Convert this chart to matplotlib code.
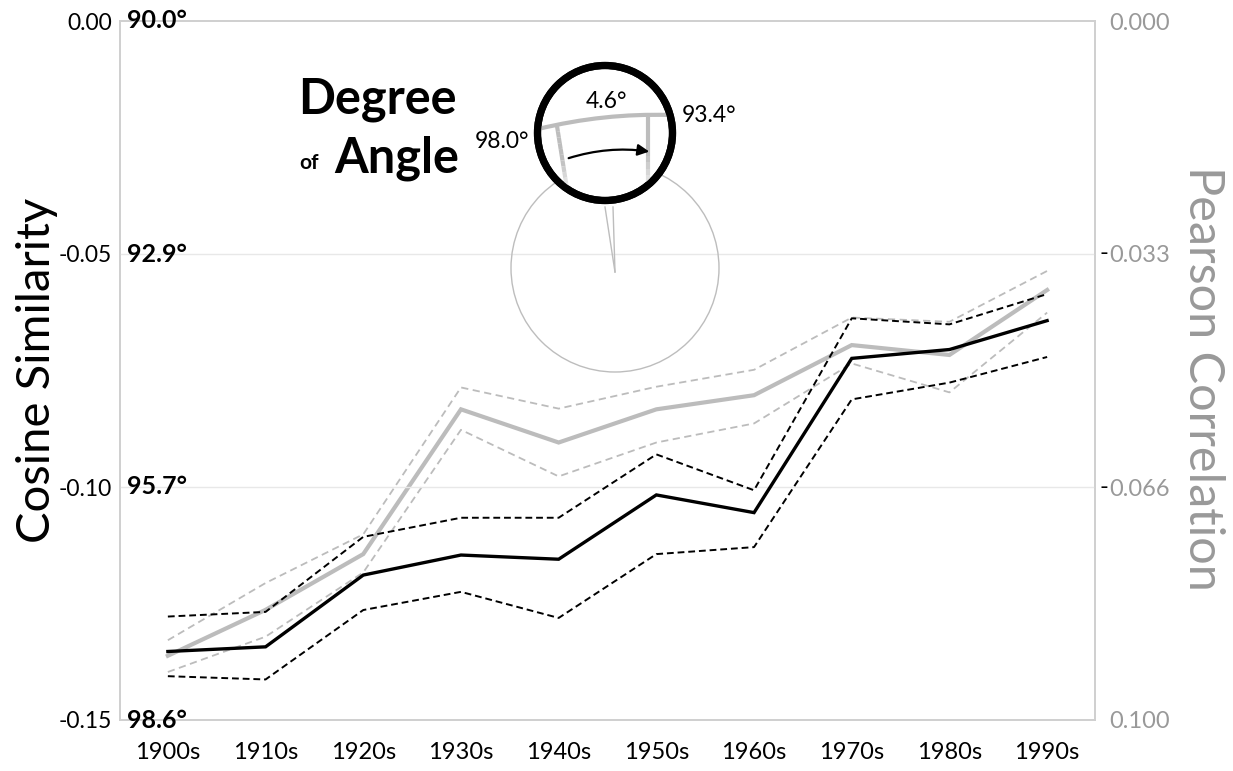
import numpy as np
import matplotlib
matplotlib.use("Agg")
import matplotlib.pyplot as plt
import matplotlib.transforms as mtransforms
from matplotlib.patches import Circle, FancyArrowPatch, PathPatch
from matplotlib.path import Path

plt.rcParams['font.family'] = ['Lato', 'DejaVu Sans']

# ---------------- data ----------------
decades = ['1900s', '1910s', '1920s', '1930s', '1940s',
           '1950s', '1960s', '1970s', '1980s', '1990s']

cosine_mean = [-0.1353, -0.1343, -0.1189, -0.1146, -0.1155,
               -0.1017, -0.1055, -0.0724, -0.0705, -0.0643]
cosine_upper = [-0.1278, -0.1268, -0.1107, -0.1066, -0.1066,
                -0.0930, -0.1007, -0.0638, -0.0651, -0.0586]
cosine_lower = [-0.1406, -0.1413, -0.1264, -0.1225, -0.1281,
                -0.1144, -0.1129, -0.0812, -0.0776, -0.0721]

pearson_mean = [-0.0899, -0.0834, -0.0755, -0.0550, -0.0597,
                -0.0550, -0.0530, -0.0459, -0.0473, -0.0381]
pearson_upper = [-0.0877, -0.0796, -0.0727, -0.0519, -0.0549,
                 -0.0518, -0.0494, -0.0420, -0.0426, -0.0354]
pearson_lower = [-0.0922, -0.0872, -0.0781, -0.0579, -0.0645,
                 -0.0597, -0.0570, -0.0485, -0.0526, -0.0413]

cos_ticks = [0.00, -0.05, -0.10, -0.15]
cos_ticklabels = ['0.00', '-0.05', '-0.10', '-0.15']
pear_ticks = [0.0, -0.033, -0.066, -0.099]
pear_ticklabels = ['0.000', '0.033', '0.066', '0.100']
pear_negative = [False, True, True, False]

# ---------------- figure ----------------
W, H = 1233, 771
fig = plt.figure(figsize=(W / 100, H / 100), dpi=100)
ax = fig.add_axes([120 / W, 1 - 720 / H, 975 / W, 699 / H])
ax2 = ax.twinx()

GREY = '#bcbcbc'
SPINE = '#cfcfcf'
LABEL_GREY = '#999999'
x = np.arange(len(decades))

# Pearson (grey, right axis)
ax2.plot(x, pearson_mean, color=GREY, lw=3.0, solid_joinstyle='miter')
ax2.plot(x, pearson_upper, color=GREY, lw=1.3, ls=(0, (4, 2.5)))
ax2.plot(x, pearson_lower, color=GREY, lw=1.3, ls=(0, (4, 2.5)))

# Cosine (black, left axis)
ax.plot(x, cosine_mean, color='black', lw=2.4, solid_joinstyle='miter')
ax.plot(x, cosine_upper, color='black', lw=1.4, ls=(0, (3.5, 2)))
ax.plot(x, cosine_lower, color='black', lw=1.4, ls=(0, (3.5, 2)))

ax.set_zorder(ax2.get_zorder() + 1)
ax.patch.set_visible(False)

ax.set_xlim(-0.49, 9.49)
ax.set_ylim(-0.15, 0.0)
ax2.set_ylim(-0.099, 0.0)

for a in (ax, ax2):
    for s in a.spines.values():
        s.set_color(SPINE)
        s.set_linewidth(1.2)

ax.set_xticks(x)
ax.set_xticklabels(decades, fontsize=17)
ax.set_yticks(cos_ticks)
ax.set_yticklabels(cos_ticklabels, fontsize=16.5)
ax.tick_params(axis='both', length=0)
ax.tick_params(axis='x', pad=16)
ax.tick_params(axis='y', pad=6)

for t in cos_ticks[1:3]:
    ax.axhline(t, color='#e8e8e8', lw=1.0, zorder=0)

# degree labels inside the left axis
deg_trans = mtransforms.offset_copy(
    mtransforms.blended_transform_factory(ax.transAxes, ax.transData),
    fig=fig, x=7, y=0, units='dots')
for t in cos_ticks:
    deg = np.degrees(np.arccos(t))
    ax.text(0, t, f'{deg:.1f}°', transform=deg_trans, ha='left', va='center',
            fontsize=18, fontweight='bold')

# right axis labels: right-aligned, grey digits with black minus sign
ax2.set_yticks(pear_ticks)
ax2.set_yticklabels(pear_ticklabels, fontsize=17, color=LABEL_GREY)
ax2.tick_params(axis='y', length=0, pad=54)
for lbl in ax2.get_yticklabels():
    lbl.set_horizontalalignment('right')

fig.canvas.draw()
renderer = fig.canvas.get_renderer()
for lbl, t, neg in zip(ax2.get_yticklabels(), pear_ticks, pear_negative):
    if neg:
        bb = lbl.get_window_extent(renderer)
        xfig = (bb.x0 - 1) / W
        yfig = ax2.transData.transform((0, t))[1] / H
        fig.text(xfig, yfig, '-', ha='right', va='center', fontsize=17,
                 color='black')

fig.text(37 / W, 1 - 370 / H, 'Cosine Similarity', rotation=90,
         ha='center', va='center', fontsize=34)
fig.text(1203 / W, 1 - 378 / H, 'Pearson Correlation', rotation=270,
         ha='center', va='center', fontsize=35, color=LABEL_GREY)

# ---------------- inset illustration ----------------
ov = fig.add_axes([0, 0, 1, 1], zorder=10)
ov.set_xlim(0, W)
ov.set_ylim(H, 0)
ov.axis('off')
ov.patch.set_visible(False)

big_c = (615, 268)
ov.add_patch(Circle(big_c, 104, fill=False, ec='#bdbdbd', lw=1.0))
ov.plot([615, 605], [272, 207], color='#bdbdbd', lw=1.0)
ov.plot([615, 613], [272, 207], color='#bdbdbd', lw=1.0)

mag_c = (605, 133)
mag = Circle(mag_c, 67.5, fc='white', ec='black', lw=5.2, zorder=3)
ov.add_patch(mag)
clip = Circle(mag_c, 66, transform=ov.transData)

arc = PathPatch(Path([(538, 129), (604, 113), (670, 115)],
                     [Path.MOVETO, Path.CURVE3, Path.CURVE3]),
                fill=False, ec=GREY, lw=3.0, zorder=4)
ov.add_patch(arc)
arc.set_clip_path(clip)

for (x0, y0, x1, y1) in [(557, 126, 568, 195), (648, 116, 648, 195)]:
    n = 12
    xs = np.linspace(x0, x1, n + 1)
    ys = np.linspace(y0, y1, n + 1)
    for i in range(n):
        frac = i / n
        c = 0.74 + 0.26 * max(0, frac - 0.45) / 0.55
        ln, = ov.plot(xs[i:i + 2], ys[i:i + 2], color=(c, c, c), lw=3.0,
                      zorder=4, solid_capstyle='butt')
        ln.set_clip_path(Circle(mag_c, 66, transform=ov.transData))

arr = FancyArrowPatch((566, 159), (652, 152), arrowstyle='-|>',
                      connectionstyle='arc3,rad=-0.12', mutation_scale=17,
                      lw=1.6, color='black', zorder=5)
ov.add_patch(arr)
ov.add_patch(Circle(mag_c, 67.5, fill=False, ec='black', lw=5.2, zorder=6))

ov.text(606, 101, '4.6°', ha='center', va='center', fontsize=16.5, zorder=7)
ov.text(682, 115, '93.4°', ha='left', va='center', fontsize=16.5, zorder=7)
ov.text(529, 142, '98.0°', ha='right', va='center', fontsize=16.5, zorder=7)
ov.text(298, 99, 'Degree', ha='left', va='center', fontsize=35,
        fontweight='bold', zorder=7)
ov.text(299, 163, 'of', ha='left', va='center', fontsize=15,
        fontweight='bold', zorder=7)
ov.text(334, 158, 'Angle', ha='left', va='center', fontsize=35,
        fontweight='bold', zorder=7)

fig.savefig('out.png', dpi=100, facecolor='white')
